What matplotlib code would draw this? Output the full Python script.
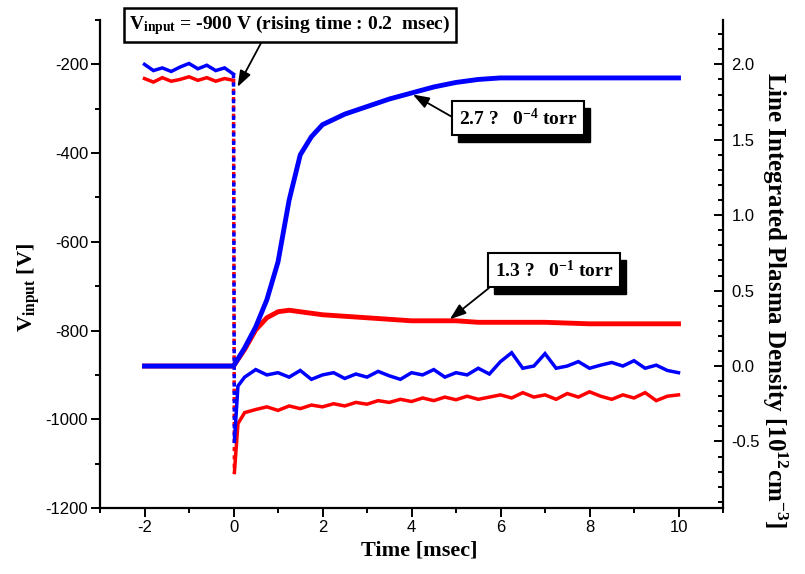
import matplotlib
matplotlib.use("Agg")
import matplotlib.pyplot as plt
from matplotlib.ticker import MultipleLocator
from matplotlib.patches import Rectangle

plt.rcParams['mathtext.fontset'] = 'custom'
plt.rcParams['mathtext.rm'] = 'Liberation Serif:bold'
plt.rcParams['mathtext.bf'] = 'Liberation Serif:bold'
plt.rcParams['mathtext.it'] = 'Liberation Serif:bold'
plt.rcParams['mathtext.default'] = 'bf'

# ---------------- data ----------------
# input voltage traces (left axis, V)
t_pre = [-2.0, -1.8, -1.6, -1.4, -1.2, -1.0, -0.8, -0.6, -0.4, -0.2, 0.0]
v_blue_pre = [-200, -214, -208, -216, -206, -198, -210, -202, -214, -208, -222]
v_red_pre = [-232, -240, -230, -238, -234, -228, -236, -230, -238, -232, -236]

t_post = [0.02, 0.1, 0.25, 0.5, 0.75, 1.0, 1.25, 1.5, 1.75, 2.0, 2.25, 2.5, 2.75,
          3.0, 3.25, 3.5, 3.75, 4.0, 4.25, 4.5, 4.75, 5.0, 5.25, 5.5, 5.75, 6.0,
          6.25, 6.5, 6.75, 7.0, 7.25, 7.5, 7.75, 8.0, 8.25, 8.5, 8.75, 9.0, 9.25,
          9.5, 9.75, 10.0]
v_blue_post = [-1050, -925, -905, -888, -900, -895, -905, -890, -910, -900, -895,
               -908, -898, -905, -892, -902, -910, -895, -900, -888, -905, -895,
               -900, -885, -898, -870, -850, -885, -880, -852, -885, -880, -870,
               -885, -878, -872, -880, -868, -885, -878, -890, -895]
v_red_post = [-1120, -1010, -985, -978, -972, -980, -970, -976, -968, -972, -965,
              -970, -962, -966, -958, -962, -955, -960, -952, -958, -950, -956,
              -948, -955, -950, -945, -952, -940, -950, -945, -955, -942, -950,
              -938, -948, -955, -945, -952, -940, -958, -948, -945]

# line integrated plasma density (right axis, 1e12 cm^-3)
t_dens = [-2.0, -1.0, 0.0, 0.25, 0.5, 0.75, 1.0, 1.25, 1.5, 1.75, 2.0, 2.5, 3.0,
          3.5, 4.0, 4.5, 5.0, 5.5, 6.0, 7.0, 8.0, 9.0, 10.0]
n_blue = [0.0, 0.0, 0.0, 0.12, 0.26, 0.44, 0.69, 1.10, 1.40, 1.52, 1.60, 1.67, 1.72,
          1.77, 1.81, 1.85, 1.88, 1.90, 1.91, 1.91, 1.91, 1.91, 1.91]
n_red = [0.0, 0.0, 0.0, 0.11, 0.24, 0.32, 0.36, 0.37, 0.36, 0.35, 0.34, 0.33, 0.32,
         0.31, 0.30, 0.30, 0.30, 0.29, 0.29, 0.29, 0.28, 0.28, 0.28]

x_ticks = [-2, 0, 2, 4, 6, 8, 10]
y_ticks = [-1200, -1000, -800, -600, -400, -200]
y2_ticks = [-0.5, 0.0, 0.5, 1.0, 1.5, 2.0]

BLUE = '#0000ff'
RED = '#ff0000'

# ---------------- figure ----------------
W, H = 805, 574
fig = plt.figure(figsize=(W / 100, H / 100), dpi=100)
ax = fig.add_axes([100 / W, 1 - 508 / H, (723 - 100) / W, (508 - 20) / H])
ax2 = ax.twinx()

tick_font = dict(family='Liberation Sans', size=12)

# voltage traces
for tp, vp, tq, vq, c in [(t_pre, v_red_pre, t_post, v_red_post, RED),
                          (t_pre, v_blue_pre, t_post, v_blue_post, BLUE)]:
    ax.plot(tp, vp, color=c, lw=2.5, solid_joinstyle='miter')
    ax.plot([tp[-1], tq[0]], [vp[-1], vq[0]], color=c, lw=2.5, ls=(0, (1.2, 1.2)))
    ax.plot(tq, vq, color=c, lw=2.5, solid_joinstyle='miter')

# density traces
ax2.plot(t_dens, n_red, color=RED, lw=3.5)
ax2.plot(t_dens, n_blue, color=BLUE, lw=3.5)

ax.set_xlim(-3, 11)
ax.set_ylim(-1200, -100)
ax2.set_ylim(-0.941, 2.294)

ax.set_xticks(x_ticks)
ax.set_xticklabels([str(v) for v in x_ticks], **tick_font)
ax.set_yticks(y_ticks)
ax.set_yticklabels([str(v) for v in y_ticks], **tick_font)
ax2.set_yticks(y2_ticks)
ax2.set_yticklabels([f"{v:.1f}" for v in y2_ticks], **tick_font)
ax.xaxis.set_minor_locator(MultipleLocator(1))
ax.yaxis.set_minor_locator(MultipleLocator(100))
ax2.yaxis.set_minor_locator(MultipleLocator(0.1))

for s in ['top']:
    ax.spines[s].set_visible(False)
    ax2.spines[s].set_visible(False)
ax.spines['right'].set_visible(False)
for s in ['left', 'bottom']:
    ax.spines[s].set_linewidth(1.6)
ax2.spines['right'].set_linewidth(1.6)
ax2.spines['left'].set_visible(False)
ax2.spines['bottom'].set_visible(False)

ax.tick_params(axis='both', which='major', direction='out', length=6.5, width=1.4, pad=2)
ax.tick_params(axis='both', which='minor', direction='out', length=3.5, width=1.4)
ax.tick_params(axis='y', right=False)
ax2.tick_params(axis='y', which='major', direction='in', length=6.5, width=1.4, pad=6)
ax2.tick_params(axis='y', which='minor', direction='in', length=3.5, width=1.4)

# axis labels
lab_font = dict(family='Liberation Serif', weight='bold', size=16)
fig.text(419 / W, 1 - 550 / H, 'Time [msec]', ha='center', va='center', **lab_font)
fig.text(29 / W, 1 - 287 / H, r'V$_{\rm input}$ [V]', rotation=90,
         ha='center', va='center', **lab_font)
fig.text(775 / W, 1 - 300 / H, r'Line Integrated Plasma Density [10$^{12}$cm$^{-3}$]',
         rotation=270, ha='center', va='center', family='Liberation Serif',
         weight='bold', size=18)

# annotations
ann_font = dict(family='Liberation Serif', weight='bold', size=14)
arrow = dict(arrowstyle='-|>,head_length=0.7,head_width=0.25', color='black',
             lw=1.3, shrinkA=0, shrinkB=0, mutation_scale=14)

ax2.annotate(r'V$_{\rm input}$ = -900 V (rising time : 0.2  msec)',
             xy=(0.09, 1.85), xycoords='data',
             xytext=(290 / W, 1 - 25 / H), textcoords='figure fraction',
             ha='center', va='center', annotation_clip=False,
             bbox=dict(boxstyle='square,pad=0.25', fc='white', ec='black', lw=1.8),
             arrowprops=dict(relpos=(0.42, 0.0), **arrow), zorder=10, **ann_font)

boxes = []

def boxed(text, center_px, tip, relpos):
    cx, cy = center_px[0] / W, 1 - center_px[1] / H
    a = ax2.annotate(text, xy=tip, xycoords='data', xytext=(cx, cy),
                     textcoords='figure fraction', ha='center', va='center',
                     bbox=dict(boxstyle='square,pad=0.35', fc='white', ec='black', lw=1.5),
                     arrowprops=dict(relpos=relpos, **arrow), zorder=10,
                     annotation_clip=False, **ann_font)
    boxes.append(a)

boxed(r'2.7 ?   0$^{-4}$ torr', (518, 118), (4.03, 1.80), (0.0, 0.37))
boxed(r'1.3 ?   0$^{-1}$ torr', (554, 270), (4.86, 0.31), (0.03, 0.0))

# drop shadows behind the two pressure boxes
fig.canvas.draw()
for a in boxes:
    bb = a.get_bbox_patch().get_window_extent()
    ax2.add_patch(Rectangle((bb.x0 + 6, bb.y0 - 7), bb.width, bb.height,
                            transform=None, facecolor='black', edgecolor='black',
                            zorder=8, clip_on=False))

fig.savefig('out.png', dpi=100)
